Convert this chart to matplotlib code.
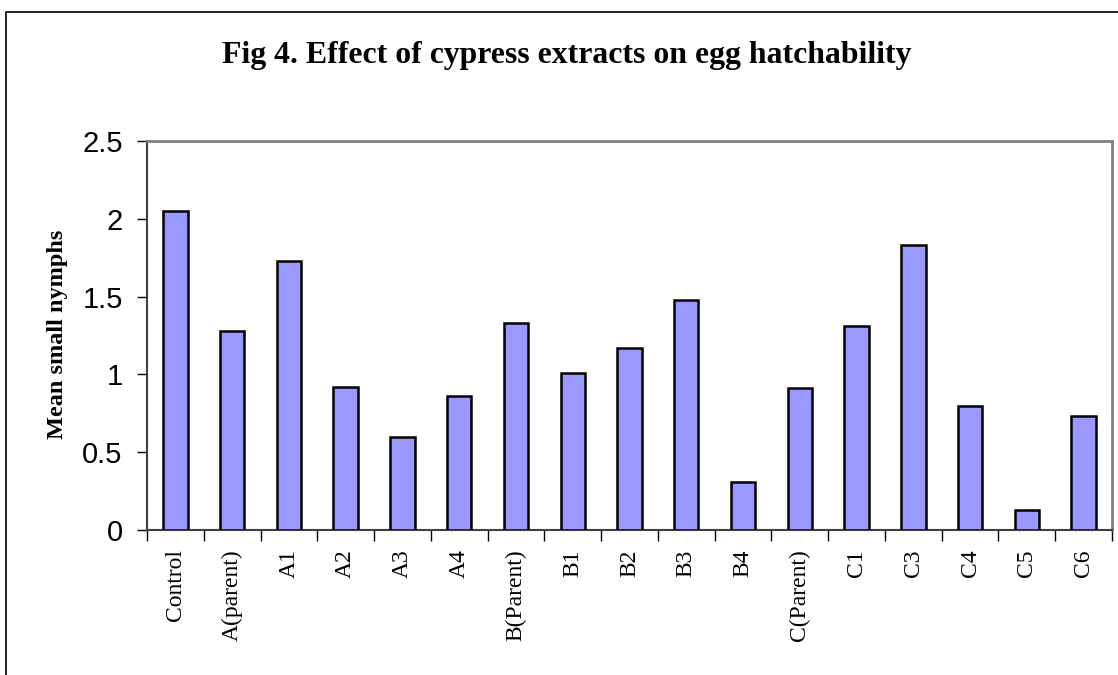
import matplotlib
matplotlib.use("Agg")
import matplotlib.pyplot as plt
from matplotlib.patches import Rectangle
import numpy as np

categories = ["Control", "A(parent)", "A1", "A2", "A3", "A4", "B(Parent)", "B1", "B2",
              "B3", "B4", "C(Parent)", "C1", "C3", "C4", "C5", "C6"]
values = [2.05, 1.28, 1.73, 0.92, 0.60, 0.86, 1.33, 1.01, 1.17,
          1.48, 0.31, 0.91, 1.31, 1.83, 0.80, 0.13, 0.73]
y_ticks = [0, 0.5, 1, 1.5, 2, 2.5]
y_ticklabels = ["0", "0.5", "1", "1.5", "2", "2.5"]
title = "Fig 4. Effect of cypress extracts on egg hatchability"
ylabel = "Mean small nymphs"

W, H = 1118, 675
fig = plt.figure(figsize=(W / 100, H / 100), dpi=100)
fig.patch.set_facecolor("white")

# outer chart border
fig.add_artist(Rectangle((6 / W, -0.1), 1.2, 1 - 12 / H + 0.1, transform=fig.transFigure,
                         fill=False, edgecolor="black", linewidth=1.2))

ax = fig.add_axes([147 / W, 1 - 530 / H, (1112 - 147) / W, (530 - 141) / H])
x = np.arange(len(categories))
ax.bar(x, values, width=0.43, color="#9999FF", edgecolor="black", linewidth=1.8, zorder=3)

ax.set_xlim(-0.5, len(categories) - 0.5)
ax.set_ylim(0, 2.5)
ax.set_yticks(y_ticks)
ax.set_yticklabels(y_ticklabels, fontfamily="Liberation Sans", fontsize=21)
ax.tick_params(axis="y", direction="out", length=7.5, width=1, pad=10, colors="black")

ax.set_xticks(x)
ax.set_xticklabels(categories, rotation=90, fontfamily="Liberation Serif", fontsize=17)
ax.tick_params(axis="x", which="major", length=0, pad=14)
ax.set_xticks(np.arange(len(categories) + 1) - 0.5, minor=True)
ax.tick_params(axis="x", which="minor", direction="out", length=8, width=1, color="black")

for s in ["top", "right"]:
    ax.spines[s].set_color("#808080")
    ax.spines[s].set_linewidth(2)
ax.spines["left"].set_color("#404040")
ax.spines["left"].set_linewidth(1.5)
ax.spines["bottom"].set_color("#404040")
ax.spines["bottom"].set_linewidth(1.5)

ax.set_ylabel(ylabel, fontfamily="Liberation Serif", fontweight="bold", fontsize=17.5, labelpad=0)
ax.yaxis.set_label_coords(-(147 - 68) / (1112 - 147), (530 - 334) / (530 - 141))

fig.text(567 / W, 1 - 55 / H, title, ha="center", va="center",
         fontfamily="Liberation Serif", fontweight="bold", fontsize=22.9)

fig.savefig("out.png", dpi=100)
